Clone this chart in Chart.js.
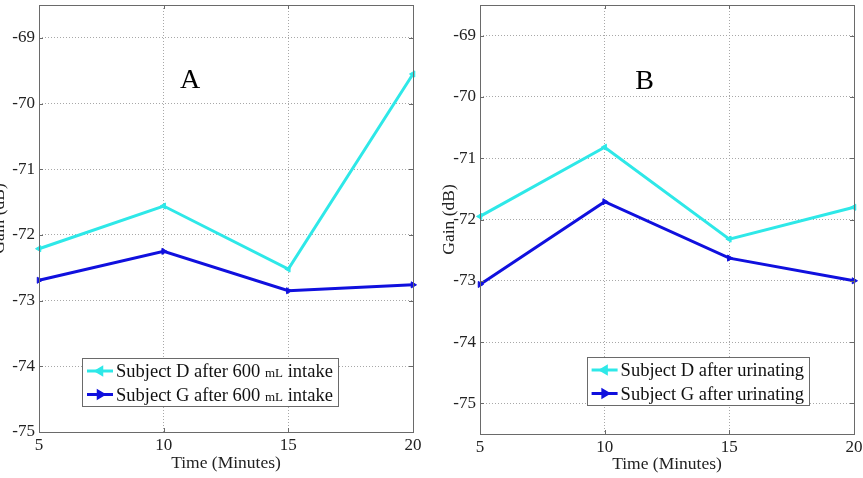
<!DOCTYPE html>
<html>
<head>
<meta charset="utf-8">
<script src="https://cdn.jsdelivr.net/npm/chart.js@4/dist/chart.umd.min.js"></script>
<style>
  html, body { margin: 0; padding: 0; background: #fff; overflow: hidden; }
  body { width: 863px; height: 478px; position: relative; }
  .wrap { position: absolute; top: 0; height: 478px; }
</style>
</head>
<body>
<div class="wrap" id="wA" style="left:-15px;width:445px;"><canvas id="cA"></canvas></div>
<div class="wrap" id="wB" style="left:435px;width:428px;"><canvas id="cB"></canvas></div>
<script>
// ---- data ----
const timeMinutes = [5, 10, 15, 20];
const gainA_D = [-72.21, -71.56, -72.52, -69.55];
const gainA_G = [-72.69, -72.25, -72.85, -72.76];
const gainB_D = [-71.95, -70.82, -72.32, -71.80];
const gainB_G = [-73.06, -71.71, -72.63, -73.00];
const legendA = [["Subject D after 600 ", "mL", " intake"], ["Subject G after 600 ", "mL", " intake"]];
const legendB = [["Subject D after urinating"], ["Subject G after urinating"]];
const panelLabels = ["A", "B"];
const yRangeA = [-75, -68.5];
const yRangeB = [-75.5, -68.5];

const CYAN = '#2ee8e8';
const BLUE = '#1010de';
const SERIF = "'Liberation Serif', 'Times New Roman', serif";

function pts(vals) { return timeMinutes.map((t, i) => ({ x: t, y: vals[i] })); }

const extras = {
  id: 'extras',
  afterDraw(chart, args, o) {
    const ctx = chart.ctx, ca = chart.chartArea;
    ctx.save();
    // frame
    ctx.strokeStyle = '#6a6a6a';
    ctx.lineWidth = 1;
    ctx.strokeRect(Math.round(ca.left) + 0.5, Math.round(ca.top) + 0.5,
      Math.round(ca.right - ca.left), Math.round(ca.bottom - ca.top));
    // inward tick marks
    const xs = chart.scales.x, ys = chart.scales.y;
    ctx.beginPath();
    xs.ticks.forEach(t => {
      const px = Math.round(xs.getPixelForValue(t.value)) + 0.5;
      ctx.moveTo(px, ca.bottom); ctx.lineTo(px, ca.bottom - 4);
      ctx.moveTo(px, ca.top); ctx.lineTo(px, ca.top + 4);
    });
    ys.ticks.forEach(t => {
      const py = Math.round(ys.getPixelForValue(t.value)) + 0.5;
      ctx.moveTo(ca.left, py); ctx.lineTo(ca.left + 4, py);
      ctx.moveTo(ca.right, py); ctx.lineTo(ca.right - 4, py);
    });
    ctx.stroke();
    // panel letter
    ctx.fillStyle = '#000';
    ctx.font = '28px ' + SERIF;
    ctx.textAlign = 'center';
    ctx.textBaseline = 'middle';
    ctx.fillText(o.letter, xs.getPixelForValue(o.letterAt[0]), ys.getPixelForValue(o.letterAt[1]));
    // legend
    const big = '18.5px ' + SERIF, small = '13px ' + SERIF;
    const widths = o.legend.map(parts => parts.reduce((w, p, i) => {
      ctx.font = (parts.length === 3 && i === 1) ? small : big;
      return w + ctx.measureText(p).width;
    }, 0));
    const textW = Math.max(...widths);
    const boxW = 34 + textW + 5, boxH = 48;
    const bx = o.legendAnchor === 'left' ? ca.left + o.legendOffset : ca.right - o.legendOffset - boxW;
    const by = ca.bottom - o.legendBottom - boxH;
    ctx.fillStyle = '#fff';
    ctx.fillRect(bx, by, boxW, boxH);
    ctx.strokeStyle = '#6a6a6a';
    ctx.lineWidth = 1;
    ctx.strokeRect(Math.round(bx) + 0.5, Math.round(by) + 0.5, Math.round(boxW), boxH);
    const colors = [CYAN, BLUE], rots = [-90, 90];
    o.legend.forEach((parts, r) => {
      const cy = by + 13 + r * 23.5;
      ctx.strokeStyle = colors[r];
      ctx.lineWidth = 3;
      ctx.beginPath(); ctx.moveTo(bx + 5, cy); ctx.lineTo(bx + 31, cy); ctx.stroke();
      ctx.fillStyle = colors[r];
      Chart.helpers.drawPoint(ctx, { pointStyle: 'triangle', rotation: rots[r], radius: 3.5, borderWidth: 1 }, bx + 18, cy);
      ctx.fillStyle = '#111';
      ctx.textAlign = 'left';
      ctx.textBaseline = 'alphabetic';
      let tx = bx + 34;
      parts.forEach((p, i) => {
        ctx.font = (parts.length === 3 && i === 1) ? small : big;
        ctx.fillText(p, tx, cy + 6);
        tx += ctx.measureText(p).width;
      });
    });
    ctx.restore();
  }
};

function makeChart(id, dVals, gVals, yRange, yWidth, xHeight, pad, titlePadBottom, extraOpts) {
  const tickFont = { family: SERIF, size: 17 };
  const titleFont = { family: SERIF, size: 17.5 };
  return new Chart(document.getElementById(id), {
    type: 'line',
    data: {
      datasets: [
        { data: pts(dVals), borderColor: CYAN, backgroundColor: CYAN, borderWidth: 3,
          pointStyle: 'triangle', pointRotation: -90, pointRadius: 3.5, pointBorderWidth: 1, clip: false, tension: 0 },
        { data: pts(gVals), borderColor: BLUE, backgroundColor: BLUE, borderWidth: 3,
          pointStyle: 'triangle', pointRotation: 90, pointRadius: 3.5, pointBorderWidth: 1, clip: false, tension: 0 }
      ]
    },
    options: {
      responsive: true,
      maintainAspectRatio: false,
      animation: false,
      layout: { padding: pad },
      plugins: { legend: { display: false }, tooltip: { enabled: false }, extras: extraOpts },
      scales: {
        x: {
          type: 'linear', min: 5, max: 20,
          ticks: { stepSize: 5, font: tickFont, color: '#222', padding: 3 },
          grid: { color: '#a8a8a8', lineWidth: 1, drawTicks: false, tickLength: 0 },
          border: { display: false, dash: [1, 2] },
          title: { display: true, text: 'Time (Minutes)', font: titleFont, color: '#222', padding: { top: 0, bottom: titlePadBottom } },
          afterFit(s) { s.height = xHeight; s.paddingLeft = 0; s.paddingRight = 0; }
        },
        y: {
          type: 'linear', min: yRange[0], max: yRange[1],
          ticks: { stepSize: 1, font: tickFont, color: '#222', padding: 4 },
          afterBuildTicks(s) {
            const out = [];
            for (let v = Math.ceil(s.min); v <= Math.floor(s.max); v++) out.push({ value: v });
            s.ticks = out;
          },
          grid: { color: '#a8a8a8', lineWidth: 1, drawTicks: false, tickLength: 0 },
          border: { display: false, dash: [1, 2] },
          title: { display: true, text: 'Gain (dB)', font: titleFont, color: '#222', padding: { top: 4, bottom: 0 } },
          afterFit(s) { s.width = yWidth; s.paddingTop = 0; s.paddingBottom = 0; }
        }
      }
    },
    plugins: [extras]
  });
}

makeChart('cA', gainA_D, gainA_G, yRangeA, 54, 46, { top: 5, right: 17, left: 0, bottom: 0 }, 4,
  { letter: panelLabels[0], letterAt: [11.06, -69.65], legend: legendA, legendAnchor: 'left', legendOffset: 43, legendBottom: 26 });
makeChart('cB', gainB_D, gainB_G, yRangeB, 45, 44, { top: 5, right: 9, left: 0, bottom: 0 }, 3,
  { letter: panelLabels[1], letterAt: [11.6, -69.75], legend: legendB, legendAnchor: 'right', legendOffset: 45, legendBottom: 29 });
</script>
</body>
</html>
